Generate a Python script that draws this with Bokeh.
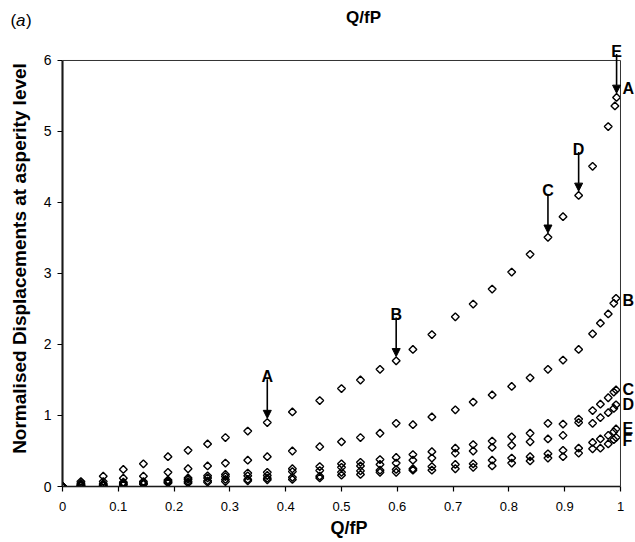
import math

from bokeh.plotting import figure
from bokeh.layouts import column
from bokeh.models import (Range1d, FixedTicker, Label, Arrow, NormalHead,
                          BoxAnnotation)
from bokeh.embed import file_html
from bokeh.resources import INLINE

FONT = "Liberation Sans"

# Q/fP sample points of the uppermost curve (A)
q_a = [0, 0.033, 0.073, 0.109, 0.145, 0.189, 0.225, 0.26, 0.292, 0.332,
       0.367, 0.412, 0.461, 0.5, 0.534, 0.569, 0.598, 0.628, 0.662, 0.704,
       0.736, 0.77, 0.805, 0.838, 0.87, 0.897, 0.925, 0.95, 0.978, 0.99, 0.993]
disp_a = [0, 0.07, 0.145, 0.24, 0.32, 0.42, 0.51, 0.60, 0.69, 0.78,
          0.90, 1.05, 1.21, 1.38, 1.50, 1.65, 1.77, 1.93, 2.14, 2.39,
          2.57, 2.78, 3.02, 3.27, 3.51, 3.80, 4.10, 4.51, 5.07, 5.36, 5.48]

# Q/fP sample points shared by curves B-F
q_bf = [0, 0.033, 0.073, 0.109, 0.145, 0.189, 0.225, 0.26, 0.292, 0.332,
        0.367, 0.412, 0.461, 0.5, 0.534, 0.569, 0.598, 0.628, 0.662, 0.704,
        0.736, 0.77, 0.805, 0.838, 0.87, 0.897, 0.925, 0.95, 0.964, 0.978,
        0.988, 0.992]
disp_b = [0, 0.045, 0.07, 0.117, 0.145, 0.20, 0.25, 0.29, 0.33, 0.37,
          0.42, 0.50, 0.56, 0.63, 0.69, 0.75, 0.89, 0.87, 0.98, 1.08,
          1.19, 1.29, 1.41, 1.53, 1.65, 1.78, 1.93, 2.15, 2.30, 2.43,
          2.58, 2.65]
disp_c = [0, 0.03, 0.04, 0.06, 0.07, 0.09, 0.12, 0.15, 0.17, 0.19,
          0.20, 0.25, 0.28, 0.32, 0.34, 0.38, 0.41, 0.45, 0.49, 0.54,
          0.59, 0.64, 0.70, 0.75, 0.89, 0.88, 0.95, 1.07, 1.16, 1.25,
          1.33, 1.36]
disp_d = [0, 0.02, 0.03, 0.045, 0.05, 0.075, 0.10, 0.12, 0.14, 0.15,
          0.155, 0.21, 0.225, 0.27, 0.29, 0.31, 0.33, 0.37, 0.40, 0.47,
          0.50, 0.55, 0.58, 0.63, 0.67, 0.72, 0.90, 0.89, 0.97, 1.04,
          1.10, 1.15]
disp_e = [0, 0.01, 0.015, 0.03, 0.04, 0.06, 0.07, 0.08, 0.10, 0.10,
          0.117, 0.13, 0.145, 0.20, 0.22, 0.23, 0.24, 0.25, 0.28, 0.31,
          0.32, 0.37, 0.40, 0.42, 0.46, 0.51, 0.54, 0.62, 0.67, 0.72,
          0.77, 0.81]
disp_f = [0, 0.01, 0.01, 0.02, 0.03, 0.05, 0.05, 0.06, 0.07, 0.08,
          0.094, 0.10, 0.12, 0.16, 0.17, 0.20, 0.20, 0.23, 0.23, 0.25,
          0.27, 0.29, 0.33, 0.36, 0.40, 0.42, 0.47, 0.53, 0.54, 0.60,
          0.66, 0.69]

curve_names = ["A", "B", "C", "D", "E", "F"]
# stages marked with arrows on curve A, and the sample index they point at
stage_names = ["A", "B", "C", "D", "E"]
stage_index = [10, 16, 24, 26, 30]

x_ticks = [0, 0.1, 0.2, 0.3, 0.4, 0.5, 0.6, 0.7, 0.8, 0.9, 1]
y_ticks = [0, 1, 2, 3, 4, 5, 6]
x_lim = (0, 1)
y_lim = (0, 6)

# ---- heading strip -------------------------------------------------------
head = figure(width=635, height=30, output_backend="svg", toolbar_location=None,
              x_axis_location=None, y_axis_location=None,
              x_range=Range1d(0, 1), y_range=Range1d(0, 1),
              min_border_left=0, min_border_right=0,
              min_border_top=0, min_border_bottom=0)
head.frame_align = False
head.grid.visible = False
head.outline_line_color = None
head.background_fill_color = "white"
head.border_fill_color = "white"

head.add_layout(Label(x=363, y=13, x_units="screen", y_units="screen", text="Q/fP",
                      text_align="center", text_baseline="alphabetic",
                      text_font=FONT, text_font_style="bold", text_font_size="17px",
                      text_color="black"))
head.add_layout(Label(x=10, y=10, x_units="screen", y_units="screen", text="(",
                      text_align="left", text_baseline="alphabetic",
                      text_font=FONT, text_font_size="17px", text_color="black"))
head.add_layout(Label(x=15.5, y=10, x_units="screen", y_units="screen", text="a",
                      text_align="left", text_baseline="alphabetic",
                      text_font=FONT, text_font_style="italic", text_font_size="17px",
                      text_color="black"))
head.add_layout(Label(x=25.5, y=10, x_units="screen", y_units="screen", text=")",
                      text_align="left", text_baseline="alphabetic",
                      text_font=FONT, text_font_size="17px", text_color="black"))

# ---- main chart ------------------------------------------------------------
# the frame reaches a little past the axes at the top and right so that the
# stage and curve names beside the data stay visible
p = figure(width=635, height=512, output_backend="svg", toolbar_location=None,
           x_range=Range1d(0, 1.0269), y_range=Range1d(0, 6.4225),
           min_border_left=62, min_border_right=0,
           min_border_top=0, min_border_bottom=56)
p.frame_align = False
p.grid.visible = False
p.background_fill_color = "white"
p.border_fill_color = "white"
p.outline_line_color = None

# plot box: top and right edges
p.add_layout(BoxAnnotation(left=x_lim[0], right=x_lim[1], bottom=y_lim[0], top=y_lim[1],
                           fill_color=None, fill_alpha=0,
                           line_color="#333333", line_width=1, line_alpha=1))

series = [(q_a, disp_a), (q_bf, disp_b), (q_bf, disp_c),
          (q_bf, disp_d), (q_bf, disp_e), (q_bf, disp_f)]
for xs, ys in series:
    p.scatter(xs, ys, marker="square", angle=math.pi / 4, size=5.5,
              fill_color=None, line_color="black", line_width=1.4)

# arrows marking the stages on curve A
gap, length = 0.06, 0.55
for name, idx in zip(stage_names, stage_index):
    x, y = q_a[idx], disp_a[idx]
    p.add_layout(Arrow(end=NormalHead(size=8, fill_color="black", line_color="black",
                                      line_width=1),
                       x_start=x, y_start=y + gap + length, x_end=x, y_end=y + gap,
                       line_color="black", line_width=1.6))
    p.add_layout(Label(x=x, y=y + gap + length, y_offset=3, text=name,
                       text_align="center", text_baseline="alphabetic",
                       text_font=FONT, text_font_style="bold", text_font_size="16px",
                       text_color="black"))

# curve names at the right-hand end of each curve
ends = [disp_a[-1], disp_b[-1], disp_c[-1], disp_d[-1], disp_e[-1], disp_f[-1]]
nudges = [9, -2, 0, 0, 0, -3]
for name, y, dy in zip(curve_names, ends, nudges):
    p.add_layout(Label(x=x_lim[1], y=y, x_offset=2, y_offset=dy, text=name,
                       text_align="left", text_baseline="middle",
                       text_font=FONT, text_font_style="bold", text_font_size="16px",
                       text_color="black"))

# axes
p.xaxis.ticker = FixedTicker(ticks=x_ticks)
p.yaxis.ticker = FixedTicker(ticks=y_ticks)
p.xaxis.bounds = x_lim
p.yaxis.bounds = y_lim
for ax in (p.xaxis[0], p.yaxis[0]):
    ax.minor_tick_line_color = None
    ax.major_tick_in = 0
    ax.major_tick_out = 5
    ax.major_tick_line_color = "black"
    ax.major_tick_line_width = 1.2
    ax.axis_line_color = "black"
    ax.major_label_text_font = FONT
    ax.major_label_text_color = "black"
    ax.axis_label_text_font = FONT
    ax.axis_label_text_font_style = "bold"
    ax.axis_label_text_color = "black"

p.xaxis.axis_line_width = 1.5
p.yaxis.axis_line_width = 2
p.xaxis.major_label_text_font_size = "13px"
p.yaxis.major_label_text_font_size = "14px"
p.xaxis.major_label_standoff = 10
p.yaxis.major_label_standoff = 6
p.xaxis.axis_label = "Q/fP"
p.yaxis.axis_label = "Normalised Displacements at asperity level"
p.xaxis.axis_label_text_font_size = "18px"
p.yaxis.axis_label_text_font_size = "19px"
p.xaxis.axis_label_standoff = 4
p.yaxis.axis_label_standoff = 11

page = column(head, p, spacing=0)
open("out.html", "w").write(file_html(page, INLINE))
